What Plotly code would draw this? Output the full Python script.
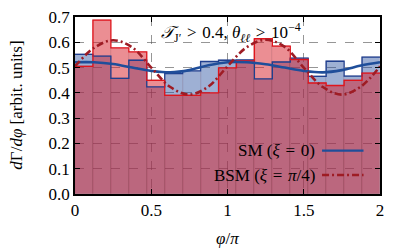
import plotly.graph_objects as go

# ---- data ----
n_bins = 17
sm_hist = [0.552, 0.545, 0.457, 0.529, 0.424, 0.476, 0.487, 0.524, 0.529,
           0.530, 0.455, 0.522, 0.537, 0.465, 0.525, 0.466, 0.541]
bsm_hist = [0.505, 0.688, 0.578, 0.562, 0.449, 0.390, 0.390, 0.400, 0.499,
            0.526, 0.614, 0.585, 0.532, 0.439, 0.429, 0.449, 0.478]
curve_x = [0, 0.125, 0.25, 0.375, 0.5, 0.625, 0.75, 0.875, 1.0,
           1.125, 1.25, 1.375, 1.5, 1.625, 1.75, 1.875, 2.0]
sm_curve = [0.521, 0.521, 0.514, 0.500, 0.487, 0.481, 0.490, 0.509, 0.521,
            0.521, 0.513, 0.500, 0.487, 0.481, 0.490, 0.508, 0.521]
bsm_curve = [0.505, 0.578, 0.608, 0.580, 0.500, 0.423, 0.393, 0.425, 0.505,
             0.580, 0.610, 0.582, 0.500, 0.423, 0.393, 0.425, 0.505]
x_ticks = [0, 0.5, 1, 1.5, 2]
x_ticklabels = ["0", "0.5", "1", "1.5", "2"]
y_ticks = [0, 0.1, 0.2, 0.3, 0.4, 0.5, 0.6, 0.7]
y_ticklabels = ["0.0", "0.1", "0.2", "0.3", "0.4", "0.5", "0.6", "0.7"]

width = 2.0 / n_bins
edges = [i * width for i in range(n_bins + 1)]
centers = [(edges[i] + edges[i + 1]) / 2 for i in range(n_bins)]

BLUE_FILL = "rgba(40,80,160,0.45)"
RED_FILL = "rgba(215,30,40,0.5)"
BLUE_LINE = "#1f3f8f"
RED_LINE = "#e0151c"
SM_CURVE = "#1f4e9a"
BSM_CURVE = "#9e1c24"
FONT = "Liberation Serif"
FS = 17
SP = "\u2004"

fig = go.Figure()
fig.add_trace(go.Bar(x=centers, y=sm_hist, width=width, marker=dict(
    color=BLUE_FILL, line=dict(width=0.6, color="rgba(90,40,80,0.2)")),
    showlegend=False))
fig.add_trace(go.Bar(x=centers, y=bsm_hist, width=width, marker=dict(
    color=RED_FILL, line=dict(width=0.6, color="rgba(120,30,50,0.2)")),
    showlegend=False))
fig.add_trace(go.Scatter(x=edges, y=sm_hist + [sm_hist[-1]], mode="lines",
                         line=dict(shape="hv", color=BLUE_LINE, width=1.3),
                         showlegend=False))
fig.add_trace(go.Scatter(x=edges, y=bsm_hist + [bsm_hist[-1]], mode="lines",
                         line=dict(shape="hv", color=RED_LINE, width=1.3),
                         showlegend=False))
fig.add_trace(go.Scatter(x=curve_x, y=sm_curve, mode="lines",
                         line=dict(shape="spline", color=SM_CURVE, width=2.6),
                         showlegend=False))
fig.add_trace(go.Scatter(x=curve_x, y=bsm_curve, mode="lines",
                         line=dict(shape="spline", color=BSM_CURVE, width=2.6,
                                   dash="7px,3px,2px,3px"),
                         showlegend=False))

# legend drawn manually (symbol on the right of the text)
leg = [(f"SM (<i>ξ</i>{SP}={SP}0)", 0.245, SM_CURVE, "solid"),
       (f"BSM (<i>ξ</i>{SP}={SP}<i>π</i>/4)", 0.107, BSM_CURVE, "7px,3px,2px,3px")]
for txt, yy, col, dash in leg:
    fig.add_annotation(x=0.793, y=yy, xref="paper", yref="paper", text=txt,
                       showarrow=False, xanchor="right", yanchor="middle",
                       font=dict(family=FONT, size=FS, color="black"))
    fig.add_shape(type="line", xref="paper", yref="paper", x0=0.81, x1=0.946,
                  y0=yy, y1=yy, line=dict(color=col, width=2.4, dash=dash))

fig.add_annotation(x=1.02, y=0.7, xref="x", yref="y", yshift=-1,
                   text=f"<i>𝒯</i><sub>J′</sub>{SP}>{SP}0.4, <i>θ</i><sub><i>ℓℓ</i></sub>{SP}>{SP}10<sup>−4</sup>",
                   showarrow=False, yanchor="top", xanchor="center",
                   font=dict(family=FONT, size=FS, color="black"))

# axis titles
fig.add_annotation(x=-0.193, y=0.5, xref="paper", yref="paper",
                   text="<i>d</i>Γ/<i>dφ</i> [arbit. units]", textangle=-90,
                   showarrow=False, xanchor="center", yanchor="middle",
                   font=dict(family=FONT, size=FS, color="black"))
fig.add_annotation(x=0.5, y=-0.25, xref="paper", yref="paper",
                   text="<i>φ</i>/<i>π</i>",
                   showarrow=False, xanchor="center", yanchor="middle",
                   font=dict(family=FONT, size=FS, color="black"))

axis_common = dict(showline=True, linecolor="black", linewidth=1.6, mirror="ticks",
                   ticks="inside", ticklen=5, tickwidth=1.3, tickcolor="black",
                   showgrid=True, gridcolor="rgba(80,80,80,0.6)", griddash="dash",
                   gridwidth=0.8, zeroline=False, automargin=False,
                   ticklabeloverflow="allow",
                   tickfont=dict(family=FONT, size=FS, color="black"))
fig.update_xaxes(range=[0, 2], tickvals=x_ticks, ticktext=x_ticklabels, **axis_common)
fig.update_yaxes(range=[0, 0.7], tickvals=y_ticks, ticktext=y_ticklabels, **axis_common)
# page body has an 8px default margin, so shift the layout up/left by 8px
fig.update_layout(width=407, height=252, barmode="overlay", bargap=0,
                  plot_bgcolor="white", paper_bgcolor="white",
                  margin=dict(l=67, r=35, t=9, b=66, autoexpand=False),
                  showlegend=False)
fig.write_html("out.html")
